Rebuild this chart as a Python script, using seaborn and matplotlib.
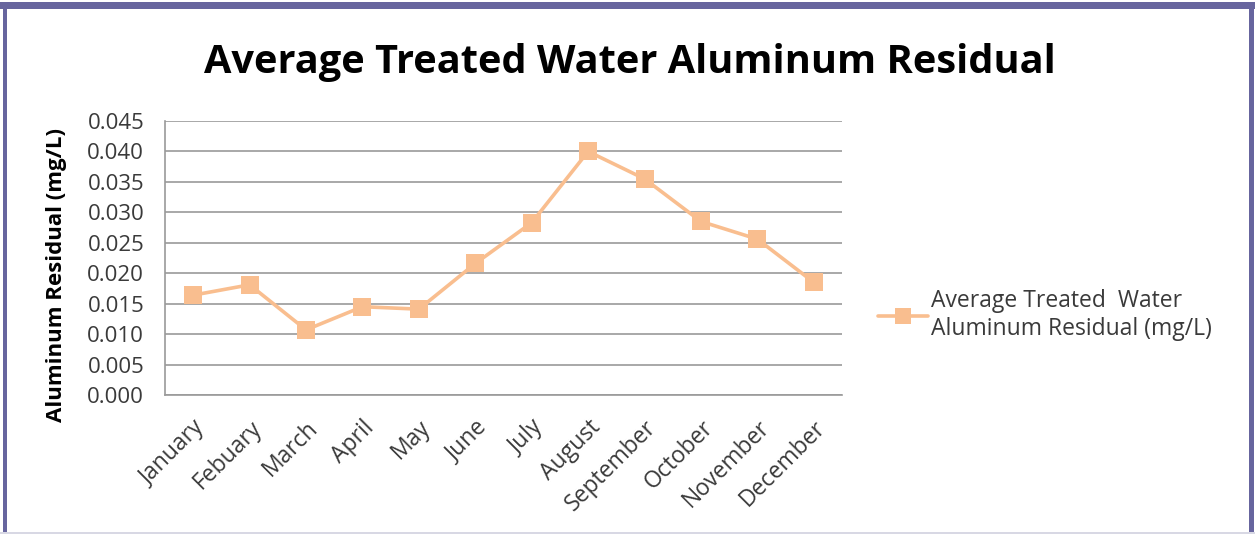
import matplotlib
matplotlib.use("Agg")
import matplotlib.pyplot as plt
from matplotlib.patches import Rectangle
from matplotlib.lines import Line2D
import seaborn as sns
import pandas as pd

months = ["January", "Febuary", "March", "April", "May", "June", "July",
          "August", "September", "October", "November", "December"]
residual = [0.0164, 0.0181, 0.0107, 0.0145, 0.0141, 0.0216, 0.0283,
            0.0400, 0.0355, 0.0285, 0.0256, 0.0185]
y_ticks = [0.000, 0.005, 0.010, 0.015, 0.020, 0.025, 0.030, 0.035, 0.040, 0.045]

title = "Average Treated Water Aluminum Residual"
series_name = "Average Treated  Water\nAluminum Residual (mg/L)"
line_color = "#F9BE8F"
frame_color = "#67659E"
text_color = "#3a3a3a"

sns.set_theme(style="white")
plt.rcParams["font.family"] = ["Open Sans", "DejaVu Sans"]

df = pd.DataFrame({"month": months, "residual": residual})
df["pos"] = range(len(months))

W, H = 1255, 534
fig = plt.figure(figsize=(W / 100, H / 100), dpi=100)
fig.patch.set_facecolor("white")

ax = fig.add_axes([165 / W, 1 - 395 / H, (842 - 165) / W, (395 - 121) / H])

sns.lineplot(data=df, x="pos", y="residual", ax=ax, color=line_color,
             linewidth=2.6, marker="s", markersize=13,
             markeredgewidth=0, markerfacecolor=line_color, legend=False)

ax.set_xlim(-0.5, len(months) - 0.5)
ax.set_ylim(0, 0.045)
ax.set_yticks(y_ticks)
ax.set_yticklabels([f"{v:.3f}" for v in y_ticks], fontsize=16, color=text_color)
ax.set_xticks(range(len(months)))
ax.set_xticklabels(months, rotation=45, ha="right", rotation_mode="anchor",
                   fontsize=16.5, color=text_color)
ax.tick_params(axis="y", length=0, pad=15)
ax.tick_params(axis="x", length=0, pad=15)

ax.grid(axis="y", color="#9a9a9a", linewidth=1.2)
ax.set_axisbelow(True)
for side in ["top", "right"]:
    ax.spines[side].set_visible(False)
for side in ["left", "bottom"]:
    ax.spines[side].set_color("#9a9a9a")
    ax.spines[side].set_linewidth(1.2)

ax.set_xlabel("")
ax.set_ylabel("Aluminum Residual (mg/L)", fontsize=16, fontweight="bold",
              color="black")
ax.yaxis.set_label_coords(-98 / 677, (395 - 275) / 274)

title_text = fig.text(630 / W, 1 - 63 / H, title, ha="center", va="center",
                      fontsize=28, fontweight="bold", color="black")

# scale the title so it spans the chart width
renderer = fig.canvas.get_renderer()
tw = title_text.get_window_extent(renderer).width
title_text.set_fontsize(28 * 850 / tw)

handle = Line2D([], [], color=line_color, linewidth=2.6, marker="s",
                markersize=12, markeredgewidth=0)
fig.legend([handle], [series_name], loc="center left",
           bbox_to_anchor=(878 / W, 1 - 315 / H), frameon=False,
           fontsize=16.5, labelcolor=text_color, handlelength=2.2,
           handletextpad=0.1, borderaxespad=0, borderpad=0)

# purple frame around the chart
fig.add_artist(Rectangle((0, 1 - 9 / H), 1, 7 / H, transform=fig.transFigure,
                         color=frame_color, lw=0))
fig.add_artist(Rectangle((3 / W, 0), 4 / W, 1 - 2 / H, transform=fig.transFigure,
                         color=frame_color, lw=0))
fig.add_artist(Rectangle((1249 / W, 0), 5 / W, 1 - 2 / H, transform=fig.transFigure,
                         color=frame_color, lw=0))
fig.add_artist(Rectangle((0, 0), 1, 2 / H, transform=fig.transFigure,
                         color="#d8d8e4", lw=0))

fig.savefig("out.png", dpi=100, facecolor="white")
